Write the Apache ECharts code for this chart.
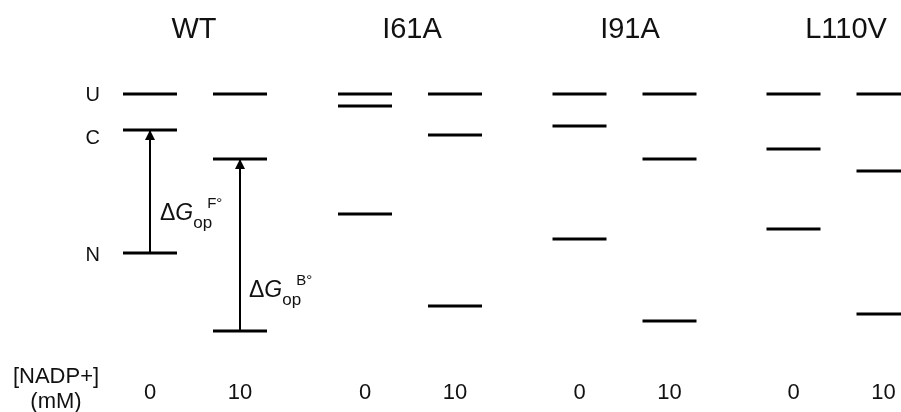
<!DOCTYPE html>
<html><head><meta charset="utf-8">
<script src="https://cdn.jsdelivr.net/npm/echarts@6/dist/echarts.min.js"></script>
<style>html,body{margin:0;padding:0;background:#fff}#c{width:901px;height:412px}</style>
</head><body><div id="c"></div>
<script>
// ---- data ----
const groups = ['WT', 'I61A', 'I91A', 'L110V'];
const nadpConc = ['0', '10'];              // [NADP+] (mM)
const stateNames = ['U', 'C', 'N'];
// free-energy levels (relative to U), per [NADP+] column: [U, C, N]
const levelsWT    = [[0, -1.8, -7.95], [0, -3.25, -11.85]];
const levelsI61A  = [[0, -0.6, -6.0],  [0, -2.05, -10.6]];
const levelsI91A  = [[0, -1.6, -7.25], [0, -3.25, -11.35]];
const levelsL110V = [[0, -2.75, -6.75],[0, -3.85, -11.0]];
const allLevels = [levelsWT, levelsI61A, levelsI91A, levelsL110V];
const dGSuperscripts = ['F°', 'B°'];
const dGLabelLevel = [-6.0, -9.85];
const xTitle = '[NADP+]\n(mM)';

// ---- layout / style ----
const FONT = '"Liberation Sans", Arial, Helvetica, sans-serif';
const INK = '#000000';
const TXT = '#111111';
const groupCenters = [195, 410, 624.5, 838.5];
const titleCenters = [194, 412, 630, 846];
const GRID_W = 180, GRID_TOP = 74, GRID_H = 300;

const chart = echarts.init(document.getElementById('c'), null, {renderer: 'canvas'});

const grid = groups.map((g, i) => ({
  left: groupCenters[i] - GRID_W / 2, width: GRID_W, top: GRID_TOP, height: GRID_H,
  containLabel: false, outerBoundsMode: 'none'
}));
const xAxis = groups.map((g, i) => ({
  type: 'category', gridIndex: i, data: nadpConc, boundaryGap: true,
  axisLine: {show: false}, axisTick: {show: false}, splitLine: {show: false},
  axisLabel: {fontSize: 22, color: TXT, fontFamily: FONT, margin: 8}
}));
const yAxis = groups.map((g, i) => ({
  type: 'value', gridIndex: i, min: -14, max: 1, show: false
}));

const labelOffsets = [[0, 1], [0, 8], [0, 2]];
const dGRich = {
  m: {fontSize: 23, lineHeight: 36, color: TXT, fontFamily: FONT},
  g: {fontSize: 23, lineHeight: 36, fontStyle: 'italic', color: TXT, fontFamily: FONT},
  s: {fontSize: 17, lineHeight: 10, verticalAlign: 'bottom', color: TXT, fontFamily: FONT, padding: [0, -5, 0, 0]},
  p: {fontSize: 15, lineHeight: 14, verticalAlign: 'top', color: TXT, fontFamily: FONT}
};

const series = groups.map((g, i) => {
  const data = [];
  nadpConc.forEach((c, j) => {
    allLevels[i][j].forEach((v, k) => {
      const item = {value: [c, v]};
      if (i === 0 && j === 0) {
        item.label = {show: true, formatter: stateNames[k], position: 'left', distance: 23,
          offset: labelOffsets[k], fontSize: 20, color: TXT, fontFamily: FONT, opacity: 1};
      }
      data.push(item);
    });
  });
  const s = {
    type: 'scatter', xAxisIndex: i, yAxisIndex: i, data,
    symbol: 'rect', symbolSize: [54, 3], itemStyle: {color: INK, opacity: 1},
    label: {show: false}, silent: true, animation: false, clip: false
  };
  if (i === 0) {
    s.markLine = {
      silent: true, animation: false,
      symbol: ['none', 'triangle'],
      symbolSize: 10,
      symbolOffset: [[0, 0], [0, 5]],
      lineStyle: {color: INK, width: 2, type: 'solid', opacity: 1},
      itemStyle: {color: INK},
      label: {show: false},
      data: nadpConc.map((c, j) => [
        {coord: [c, levelsWT[j][2]]},
        {coord: [c, levelsWT[j][1]]}
      ])
    };
    s.markPoint = {
      silent: true, animation: false, symbol: 'circle', symbolSize: 0,
      data: nadpConc.map((c, j) => ({
        coord: [c, dGLabelLevel[j]],
        label: {show: true, position: 'right', distance: j === 0 ? 10 : 9,
          formatter: '{m|Δ}{g|G}{s|op}{p|' + dGSuperscripts[j] + '}', rich: dGRich}
      }))
    };
  }
  return s;
});

const title = groups.map((g, i) => ({
  text: g, left: titleCenters[i], top: 15, textAlign: 'center', textVerticalAlign: 'top', padding: 0,
  textStyle: {fontSize: 29, fontWeight: 'normal', color: TXT, fontFamily: FONT}
}));
title.push({
  text: xTitle, left: 56, top: 364, textAlign: 'center', textVerticalAlign: 'top', padding: 0,
  textStyle: {fontSize: 22, lineHeight: 25, fontWeight: 'normal', color: TXT, fontFamily: FONT}
});

chart.setOption({
  animation: false,
  backgroundColor: '#ffffff',
  title, grid, xAxis, yAxis, series
});
</script>
</body></html>
